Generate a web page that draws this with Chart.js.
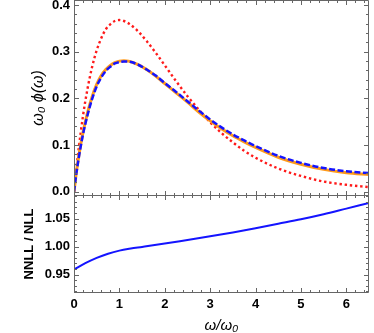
<!DOCTYPE html>
<html>
<head>
<meta charset="utf-8">
<script src="https://cdn.jsdelivr.net/npm/chart.js@4.4.1/dist/chart.umd.min.js"></script>
<style>
  html, body { margin: 0; padding: 0; background: #fff; overflow: hidden; }
  #wrap { position: relative; width: 374px; height: 333px; }
  canvas { position: absolute; left: 0; }
</style>
</head>
<body>
<div id="wrap">
  <canvas id="topChart" width="374" height="196" style="top:0px"></canvas>
  <canvas id="botChart" width="374" height="138" style="top:195px"></canvas>
</div>
<script>
  // omega / omega_0 grid
  const omega = [0, 0.05, 0.1, 0.2, 0.3, 0.4, 0.5, 0.6, 0.7, 0.8, 0.9, 1.0, 1.1, 1.2, 1.4, 1.6, 1.8,
    2.0, 2.25, 2.5, 2.75, 3.0, 3.25, 3.5, 3.75, 4.0, 4.5, 5.0, 5.5, 6.0, 6.5];
  // red dotted
  const phiModel = [0, 0.048, 0.090, 0.164, 0.222, 0.268, 0.303, 0.329, 0.348, 0.359, 0.366, 0.368, 0.366, 0.361, 0.345,
    0.323, 0.298, 0.271, 0.237, 0.205, 0.176, 0.149, 0.126, 0.106, 0.088, 0.073, 0.050, 0.034, 0.022, 0.015, 0.010];
  // orange solid (NLL)
  const phiNLL = [0, 0.040, 0.073, 0.128, 0.170, 0.204, 0.230, 0.249, 0.262, 0.271, 0.277, 0.280, 0.281, 0.280, 0.273,
    0.262, 0.248, 0.232, 0.212, 0.192, 0.171, 0.152, 0.135, 0.120, 0.107, 0.095, 0.074, 0.059, 0.048, 0.041, 0.037];
  // blue dashed (NNLL)
  const phiNNLL = [0, 0.038, 0.070, 0.124, 0.165, 0.199, 0.226, 0.245, 0.259, 0.268, 0.275, 0.278, 0.279, 0.279, 0.273,
    0.262, 0.249, 0.233, 0.214, 0.194, 0.174, 0.155, 0.138, 0.123, 0.110, 0.098, 0.077, 0.062, 0.051, 0.044, 0.040];
  // NNLL / NLL
  const ratioX = [0, 0.25, 0.5, 0.75, 1.0, 1.25, 1.5, 2.0, 2.5, 3.0, 3.5, 4.0, 4.5, 5.0, 5.5, 6.0, 6.5];
  const ratio = [0.959, 0.9705, 0.980, 0.9875, 0.993, 0.9966, 0.9995, 1.0055, 1.012, 1.0185, 1.0255, 1.033, 1.041, 1.049,
    1.058, 1.068, 1.078];

  const xTicks = [0, 1, 2, 3, 4, 5, 6];
  const yTicksTop = [0, 0.1, 0.2, 0.3, 0.4];
  const yTicksBot = [0.95, 1.00, 1.05];

  const pts = (xs, ys) => xs.map((x, i) => ({ x: x, y: ys[i] }));
  const tickFont = { family: 'Liberation Sans', size: 13, weight: 'bold' };
  const mathFont = { family: 'Liberation Sans', size: 15, style: 'italic', weight: 'normal' };

  // Mathematica-like frame with inward ticks on all four sides
  const framePlugin = {
    id: 'frame',
    afterDraw(chart, args, opts) {
      const { ctx, chartArea: a, scales } = chart;
      const xs = scales.x, ys = scales.y;
      ctx.save();
      ctx.strokeStyle = '#666';
      ctx.lineWidth = 1;
      ctx.beginPath();
      ctx.rect(a.left + 0.5, a.top + 0.5, a.right - a.left - 1, a.bottom - a.top - 1);
      ctx.stroke();
      const line = (x1, y1, x2, y2) => {
        ctx.beginPath(); ctx.moveTo(x1, y1); ctx.lineTo(x2, y2); ctx.stroke();
      };
      let n0 = Math.ceil(xs.min / opts.xStep - 1e-9);
      for (let n = n0; n * opts.xStep <= xs.max + 1e-9; n++) {
        const px = Math.round(xs.getPixelForValue(n * opts.xStep)) + 0.5;
        const len = n % opts.xMajor === 0 ? 5 : 3;
        line(px, a.bottom, px, a.bottom - len);
        line(px, a.top, px, a.top + len);
      }
      n0 = Math.ceil(ys.min / opts.yStep - 1e-9);
      for (let n = n0; n * opts.yStep <= ys.max + 1e-9; n++) {
        const py = Math.round(ys.getPixelForValue(n * opts.yStep)) + 0.5;
        const len = n % opts.yMajor === 0 ? 5 : 3;
        line(a.left, py, a.left + len, py);
        line(a.right, py, a.right - len, py);
      }
      ctx.restore();
    }
  };

  const fixY = (scale) => {
    scale.width = 74;
    scale.paddingTop = 0;
    scale.paddingBottom = 0;
  };

  new Chart(document.getElementById('topChart'), {
    type: 'line',
    data: {
      datasets: [
        {
          data: pts(omega, phiNNLL), borderColor: '#1414ff', borderWidth: 2.5,
          borderDash: [6, 2.5], pointRadius: 0, cubicInterpolationMode: 'monotone'
        },
        {
          data: pts(omega, phiNLL), borderColor: '#ff9a1a', borderWidth: 3,
          pointRadius: 0, cubicInterpolationMode: 'monotone'
        },
        {
          data: pts(omega, phiModel), borderColor: '#ff1a1a', borderWidth: 2.4,
          borderDash: [2.4, 2.8], pointRadius: 0, cubicInterpolationMode: 'monotone'
        }
      ]
    },
    options: {
      responsive: false,
      animation: false,
      layout: { padding: { left: 0, right: 5, top: 0, bottom: 0 } },
      plugins: {
        legend: { display: false },
        tooltip: { enabled: false },
        frame: { xStep: 0.2, xMajor: 5, yStep: 0.02, yMajor: 5 }
      },
      scales: {
        x: { type: 'linear', min: 0, max: 6.5, display: false },
        y: {
          min: -0.009, max: 0.411,
          grid: { display: false, drawTicks: false },
          border: { display: false },
          afterBuildTicks: (s) => { s.ticks = yTicksTop.map(v => ({ value: v })); },
          afterFit: fixY,
          ticks: { font: tickFont, color: '#000', padding: 4, callback: v => v.toFixed(1) },
          title: {
            display: true, text: 'ω₀ ϕ(ω)', color: '#000',
            font: Object.assign({}, mathFont, { size: 16 }),
            padding: { top: 29, bottom: 0 }
          }
        }
      }
    },
    plugins: [framePlugin]
  });

  new Chart(document.getElementById('botChart'), {
    type: 'line',
    data: {
      datasets: [
        {
          data: pts(ratioX, ratio), borderColor: '#1414ff', borderWidth: 2,
          pointRadius: 0, cubicInterpolationMode: 'monotone'
        }
      ]
    },
    options: {
      responsive: false,
      animation: false,
      layout: { padding: { left: 0, right: 5, top: 0, bottom: 0 } },
      plugins: {
        legend: { display: false },
        tooltip: { enabled: false },
        frame: { xStep: 0.2, xMajor: 5, yStep: 0.01, yMajor: 5 }
      },
      scales: {
        x: {
          type: 'linear', min: 0, max: 6.5,
          grid: { display: false, drawTicks: false },
          border: { display: false },
          afterBuildTicks: (s) => { s.ticks = xTicks.map(v => ({ value: v })); },
          afterFit: (s) => { s.height = 40; s.paddingLeft = 0; s.paddingRight = 0; },
          ticks: { font: tickFont, color: '#000', padding: 4, maxRotation: 0, callback: v => String(v) },
          title: {
            display: true, text: 'ω/ω₀', color: '#000',
            font: Object.assign({}, mathFont, { lineHeight: 1 }),
            padding: { top: 0, bottom: 0 }
          }
        },
        y: {
          min: 0.9173, max: 1.0923,
          grid: { display: false, drawTicks: false },
          border: { display: false },
          afterBuildTicks: (s) => { s.ticks = yTicksBot.map(v => ({ value: v })); },
          afterFit: fixY,
          ticks: { font: tickFont, color: '#000', padding: 4, callback: v => v.toFixed(2) },
          title: {
            display: true, text: 'NNLL / NLL', color: '#000', font: tickFont,
            padding: { top: 22, bottom: 0 }
          }
        }
      }
    },
    plugins: [framePlugin]
  });
</script>
</body>
</html>
